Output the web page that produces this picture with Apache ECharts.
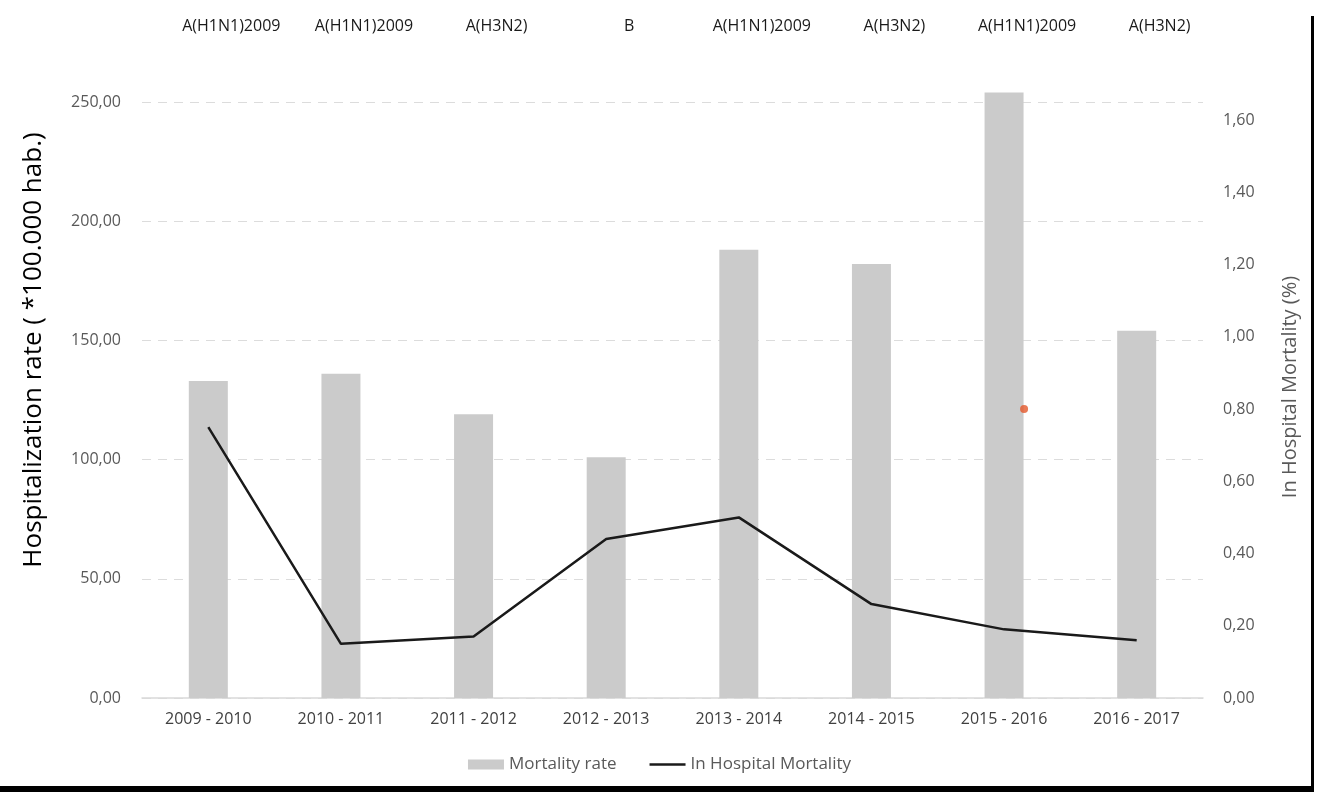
<!DOCTYPE html>
<html>
<head>
<meta charset="utf-8">
<style>
  html, body { margin: 0; padding: 0; background: #ffffff; }
  #chart { width: 1319px; height: 792px; }
</style>
<script src="https://cdn.jsdelivr.net/npm/echarts@6/dist/echarts.min.js"></script>
</head>
<body>
<div id="chart"></div>
<script>
// Influenza seasons and dominant circulating strain
const seasons = ['2009 - 2010', '2010 - 2011', '2011 - 2012', '2012 - 2013',
                 '2013 - 2014', '2014 - 2015', '2015 - 2016', '2016 - 2017'];
const strains = ['A(H1N1)2009', 'A(H1N1)2009', 'A(H3N2)', 'B',
                 'A(H1N1)2009', 'A(H3N2)', 'A(H1N1)2009', 'A(H3N2)'];

// Hospitalization rate per 100.000 inhabitants (bars, left axis)
const hospitalizationRate = [133, 136, 119, 101, 188, 182, 254, 154];
// In-hospital mortality, % (line, right axis)
const inHospitalMortality = [0.75, 0.15, 0.17, 0.44, 0.50, 0.26, 0.19, 0.16];
// Single stray point in the 2015 - 2016 season (right axis)
const strayPoint = [null, null, null, null, null, null, 0.80, null];

const leftTicks = { min: 0, max: 250, interval: 50 };
const rightTicks = { min: 0, max: 1.65, interval: 0.2 };

const comma2 = v => Number(v).toFixed(2).replace('.', ',');
const FONT = '"Open Sans", "Noto Sans", sans-serif';

const chart = echarts.init(document.getElementById('chart'), null, { renderer: 'canvas' });

chart.setOption({
  animation: false,
  backgroundColor: '#ffffff',
  grid: { left: 142, right: 116, top: 102, bottom: 94 },
  legend: {
    bottom: 14,
    left: 'center',
    itemWidth: 36,
    itemHeight: 10,
    itemGap: 33,
    textStyle: { fontFamily: FONT, fontSize: 17, color: '#595959' },
    data: [
      { name: 'Mortality rate', icon: 'rect' },
      { name: 'In Hospital Mortality', icon: 'path://M0,0H40V3H0Z' }
    ]
  },
  xAxis: [
    {
      type: 'category',
      data: seasons,
      axisLine: { lineStyle: { color: '#d9d9d9', width: 1.5 } },
      axisTick: { show: false },
      axisLabel: { fontFamily: FONT, fontSize: 16, color: '#404040', margin: 13, interval: 0 }
    },
    {
      type: 'category',
      data: strains,
      position: 'top',
      offset: 60,
      axisLine: { show: false },
      axisTick: { show: false },
      axisLabel: {
        fontFamily: FONT, fontSize: 16, color: '#1a1a1a',
        interval: 0, hideOverlap: false, padding: [0, 0, 0, 46]
      }
    }
  ],
  yAxis: [
    {
      type: 'value',
      min: leftTicks.min, max: leftTicks.max, interval: leftTicks.interval,
      name: 'Hospitalization rate ( *100.000 hab.)',
      nameLocation: 'middle',
      nameRotate: 90,
      nameGap: 95,
      nameTextStyle: { fontFamily: FONT, fontSize: 26, color: '#000000', padding: [0, 0, 0, 100] },
      axisLine: { show: false },
      axisTick: { show: false },
      axisLabel: { fontFamily: FONT, fontSize: 16, color: '#595959', margin: 21, formatter: comma2 },
      splitLine: { lineStyle: { color: '#dcdcdc', type: [9, 7], width: 1 } }
    },
    {
      type: 'value',
      min: rightTicks.min, max: rightTicks.max, interval: rightTicks.interval,
      position: 'right',
      name: 'In Hospital Mortality (%)',
      nameLocation: 'middle',
      nameRotate: 90,
      nameGap: 77,
      nameTextStyle: { fontFamily: FONT, fontSize: 20, color: '#595959', padding: [0, 0, 0, 26] },
      axisLine: { show: false },
      axisTick: { show: false },
      axisLabel: { fontFamily: FONT, fontSize: 16, color: '#595959', margin: 20, formatter: comma2, showMaxLabel: false },
      splitLine: { show: false }
    }
  ],
  series: [
    {
      name: 'Mortality rate',
      type: 'bar',
      data: hospitalizationRate,
      barWidth: 39,
      clip: false,
      itemStyle: { color: '#cbcbcb' },
      xAxisIndex: 0,
      yAxisIndex: 0
    },
    {
      name: 'In Hospital Mortality',
      type: 'line',
      data: inHospitalMortality,
      yAxisIndex: 1,
      xAxisIndex: 0,
      symbol: 'none',
      lineStyle: { color: '#1a1a1a', width: 2.5 },
      itemStyle: { color: '#1a1a1a' },
      z: 3
    },
    {
      name: 'stray',
      type: 'scatter',
      data: strayPoint,
      yAxisIndex: 1,
      xAxisIndex: 0,
      symbolSize: 8,
      symbolOffset: [20, 0],
      itemStyle: { color: '#e4582a' },
      z: 4
    }
  ],
  graphic: [
    { type: 'rect', shape: { x: 1311, y: 16, width: 3, height: 776 }, style: { fill: '#000000' } },
    { type: 'rect', shape: { x: 0, y: 786, width: 1314, height: 6 }, style: { fill: '#000000' } }
  ]
});
</script>
</body>
</html>
